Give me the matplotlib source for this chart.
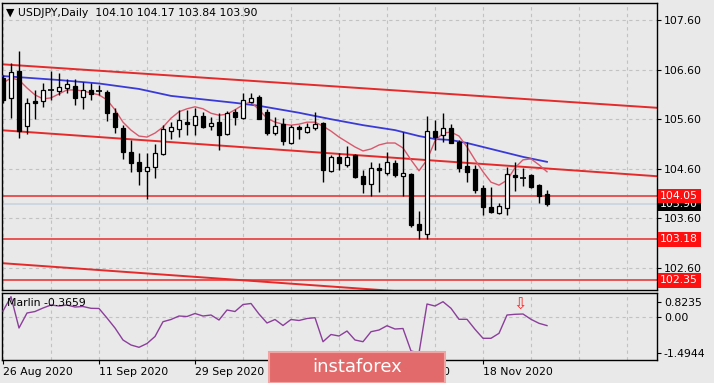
import matplotlib
matplotlib.use('Agg')
import matplotlib.pyplot as plt
from matplotlib.patches import Rectangle
import matplotlib.transforms as mtransforms

# ---------------- data ----------------
date_labels = ["26 Aug 2020", "11 Sep 2020", "29 Sep 2020", "15 Oct 2020", "2 Nov 2020", "18 Nov 2020"]
date_bars = [0, 12, 24, 36, 48, 60]

opens = [106.43, 106.03, 106.57, 105.46, 105.97, 105.97, 106.19, 106.17, 106.23, 106.27,
         106.05, 106.19, 106.17, 106.15, 105.72, 105.42, 104.94, 104.74, 104.56, 104.64,
         104.90, 105.36, 105.40, 105.54, 105.48, 105.66, 105.46, 105.54, 105.30, 105.74,
         105.62, 105.95, 106.05, 105.74, 105.32, 105.50, 105.12, 105.44, 105.34, 105.42,
         105.52, 104.56, 104.84, 104.68, 104.88, 104.46, 104.29, 104.62, 104.52, 104.72,
         104.45, 104.49, 103.49, 103.29, 105.36, 105.28, 105.42, 105.14, 104.66, 104.60,
         104.21, 103.83, 103.71, 103.81, 104.48, 104.43, 104.47, 104.27, 104.10]
highs = [106.50, 106.73, 106.97, 106.03, 106.19, 106.33, 106.57, 106.53, 106.41, 106.41,
         106.35, 106.33, 106.29, 106.19, 105.83, 105.48, 105.18, 104.92, 104.92, 105.10,
         105.48, 105.54, 105.79, 105.79, 105.83, 105.75, 105.64, 105.72, 105.76, 105.81,
         106.13, 106.13, 106.09, 105.81, 105.64, 105.62, 105.48, 105.48, 105.52, 105.74,
         105.54, 104.88, 104.92, 105.06, 104.90, 104.58, 104.74, 104.72, 104.94, 104.78,
         105.34, 104.51, 103.75, 105.66, 105.58, 105.72, 105.50, 105.18, 105.14, 104.68,
         104.27, 104.23, 103.91, 104.64, 104.74, 104.62, 104.49, 104.29, 104.17]
lows = [105.93, 105.62, 105.22, 105.30, 105.60, 105.85, 105.99, 106.09, 106.13, 105.89,
        105.81, 105.99, 106.09, 105.56, 105.32, 104.80, 104.54, 104.27, 103.99, 104.41,
        104.88, 105.20, 105.24, 105.28, 105.28, 105.42, 105.38, 104.98, 105.28, 105.48,
        105.60, 105.93, 105.60, 105.28, 105.28, 105.08, 105.10, 105.20, 105.32, 105.38,
        104.33, 104.54, 104.58, 104.64, 104.41, 104.11, 104.05, 104.13, 104.47, 104.43,
        104.05, 103.43, 103.18, 103.18, 104.98, 105.14, 105.12, 104.54, 104.33, 104.11,
        103.67, 103.71, 103.69, 103.67, 104.15, 104.25, 104.21, 103.91, 103.84]
closes = [105.99, 106.55, 105.36, 105.93, 105.93, 106.19, 106.17, 106.25, 106.31, 106.03,
          106.19, 106.11, 106.15, 105.72, 105.44, 104.94, 104.72, 104.56, 104.64, 104.92,
          105.40, 105.44, 105.58, 105.50, 105.66, 105.44, 105.52, 105.28, 105.72, 105.64,
          105.99, 106.03, 105.60, 105.32, 105.46, 105.16, 105.44, 105.40, 105.44, 105.50,
          104.58, 104.84, 104.72, 104.84, 104.44, 104.29, 104.62, 104.58, 104.74, 104.47,
          104.51, 103.47, 103.37, 105.36, 105.24, 105.42, 105.12, 104.62, 104.54, 104.17,
          103.83, 103.73, 103.85, 104.50, 104.43, 104.41, 104.23, 104.05, 103.90]

red_ma = [106.33, 106.43, 106.39, 106.23, 106.09, 106.01, 106.03, 106.11, 106.19, 106.19,
          106.17, 106.13, 106.09, 105.99, 105.79, 105.54, 105.38, 105.26, 105.24, 105.32,
          105.44, 105.62, 105.75, 105.81, 105.85, 105.81, 105.72, 105.68, 105.70, 105.79,
          105.89, 105.95, 105.79, 105.62, 105.54, 105.50, 105.48, 105.50, 105.54, 105.54,
          105.46, 105.36, 105.24, 105.14, 105.04, 104.96, 105.00, 105.08, 105.12, 105.12,
          105.02, 104.78, 104.56, 104.78, 105.16, 105.32, 105.34, 105.26, 105.04, 104.78,
          104.54, 104.33, 104.27, 104.37, 104.62, 104.78, 104.80, 104.68, 104.54]

blue_ma_bars = [0, 7, 12, 17, 21, 29, 32, 37, 41, 45, 49, 52, 54, 56, 58, 62, 65, 68]
blue_ma = [106.47, 106.39, 106.32, 106.21, 106.07, 105.93, 105.87, 105.73, 105.60, 105.48,
           105.38, 105.26, 105.20, 105.18, 105.12, 104.96, 104.84, 104.74]

marlin = [0.235, 0.8235, -0.465, 0.152, 0.214, 0.358, 0.482, 0.441, 0.482, 0.399,
          0.420, 0.346, 0.338, -0.054, -0.465, -0.959, -1.165, -1.260, -1.104, -0.815,
          -0.206, -0.115, 0.029, 0.008, 0.132, 0.029, 0.070, -0.136, 0.276, 0.214,
          0.502, 0.544, 0.111, -0.259, -0.115, -0.362, -0.115, -0.156, -0.074, -0.041,
          -1.030, -0.733, -0.795, -0.589, -0.959, -1.030, -0.618, -0.548, -0.371, -0.507,
          -0.486, -1.410, -1.4944, 0.523, 0.441, 0.618, 0.346, -0.107, -0.107, -0.519,
          -0.889, -0.889, -0.684, 0.070, 0.099, 0.111, -0.107, -0.272, -0.3659]

chan_bars = [-0.375, 81.75]
chan_upper = [106.71, 105.83]
chan_middle = [105.38, 104.45]
chan_lower = [102.70, 101.76]

levels = [104.05, 103.18, 102.35]
last_price = 103.90
price_ticks = [107.60, 106.60, 105.60, 104.60, 103.60, 102.60]
title_text = "USDJPY,Daily  104.10 104.17 103.84 103.90"
marlin_label = "Marlin -0.3659"
marlin_ticks = ["0.8235", "0.00", "-1.4944"]

# ---------------- figure ----------------
W, H = 714, 383
fig = plt.figure(figsize=(W / 100, H / 100), dpi=100)
BG = '#e9e9e9'
fig.patch.set_facecolor(BG)
FS = 7.8
plt.rcParams['font.family'] = ['DejaVu Sans']


def fx(px):
    return px / W


def fy(py):
    return 1 - py / H


ax = fig.add_axes([fx(2), fy(290), fx(657) - fx(2), fy(3) - fy(290)])
ax2 = fig.add_axes([fx(2), fy(360), fx(657) - fx(2), fy(292.5) - fy(360)])

XL = (-0.125, 81.75)
for a in (ax, ax2):
    a.set_facecolor(BG)
    a.set_xlim(*XL)
    for s in a.spines.values():
        s.set_color('black')
        s.set_linewidth(1)

ax.set_ylim(102.156, 107.943)
ax2.set_ylim(-1.783, 0.997)

grid_kw = dict(color='#c2c2c2', lw=0.8, ls=(0, (3, 3)), zorder=0)
for g in range(0, 82, 6):
    ax.axvline(g, **grid_kw)
    ax2.axvline(g, **grid_kw)
for p in price_ticks:
    ax.axhline(p, **grid_kw)
ax2.axhline(0, **grid_kw)

# bid line
ax.axhline(last_price, color='#c9d3dd', lw=1.2, zorder=1)

# levels
for lv in levels:
    ax.axhline(lv, color='#e84848', lw=1.3, zorder=2)

# channel
for arr in (chan_upper, chan_middle, chan_lower):
    ax.plot(chan_bars, arr, color='#e42a2a', lw=1.4, zorder=2)

# moving averages
ax.plot(blue_ma_bars, blue_ma, color='#3a3ad8', lw=1.3, zorder=3)
ax.plot(range(len(red_ma)), red_ma, color='#d9596c', lw=1.0, zorder=3)

# candles
bw = 0.56
for i, (o, h, l, c) in enumerate(zip(opens, highs, lows, closes)):
    ax.vlines(i, l, h, color='black', lw=1, zorder=4)
    if abs(c - o) < 0.025:
        ax.hlines((o + c) / 2, i - bw / 2 - 0.05, i + bw / 2 + 0.05, color='black', lw=1.2, zorder=5)
    else:
        fc = 'white' if c > o else 'black'
        ax.add_patch(Rectangle((i - bw / 2, min(o, c)), bw, abs(c - o), facecolor=fc,
                               edgecolor='black', lw=0.9, zorder=5))

# axes ticks main
ax.yaxis.tick_right()
ax.set_yticks(price_ticks)
ax.set_yticklabels(["%.2f" % p for p in price_ticks])
ax.tick_params(axis='y', direction='out', length=3, width=0.8, labelsize=FS, pad=2, colors='black')
ax.set_xticks([])

blend = mtransforms.blended_transform_factory(ax.transAxes, ax.transData)
ax.text(1.005, last_price, "%.2f" % last_price, transform=blend, color='white', fontsize=FS,
        ha='left', va='center', clip_on=False, zorder=9,
        bbox=dict(boxstyle='square,pad=0.22', fc='black', ec='none'))
for lv in levels:
    ax.text(1.005, lv, "%.2f" % lv, transform=blend, color='white', fontsize=FS,
            ha='left', va='center', clip_on=False, zorder=10,
            bbox=dict(boxstyle='square,pad=0.22', fc='#ff1010', ec='none'))

# lower panel
ax2.plot(range(len(marlin)), marlin, color='#8b3f9b', lw=1.0, zorder=3)
ax2.text(64.6, 0.46, '\u21e9', color='#ff2020', fontsize=11.5, ha='center', va='center', zorder=4)
ax2.yaxis.tick_right()
ax2.set_yticks([0.618, 0.0, -1.4825])
ax2.set_yticklabels(marlin_ticks)
ax2.tick_params(axis='y', direction='out', length=3, width=0.8, labelsize=FS, pad=2)
ax2.set_xticks(date_bars)
ax2.set_xticklabels(date_labels)
for t in ax2.get_xticklabels():
    t.set_ha('left')
ax2.tick_params(axis='x', direction='out', length=3, width=0.8, labelsize=FS, pad=2)

fig.text(fx(6), fy(13), "\u25bc " + title_text, fontsize=FS, ha='left', va='center')
fig.text(fx(7), fy(302.5), marlin_label, fontsize=FS, ha='left', va='center', zorder=2)

# watermark
fig.patches.append(Rectangle((fx(269), 0), fx(445) - fx(269), fy(352), transform=fig.transFigure,
                             facecolor='#e36a6a', edgecolor='#f0a4a4', lw=1.5, zorder=5))
fig.text(fx(357), fy(367), 'instaforex', color='white', fontsize=13, ha='center', va='center', zorder=6)

fig.savefig('out.png', dpi=100, facecolor=BG)
